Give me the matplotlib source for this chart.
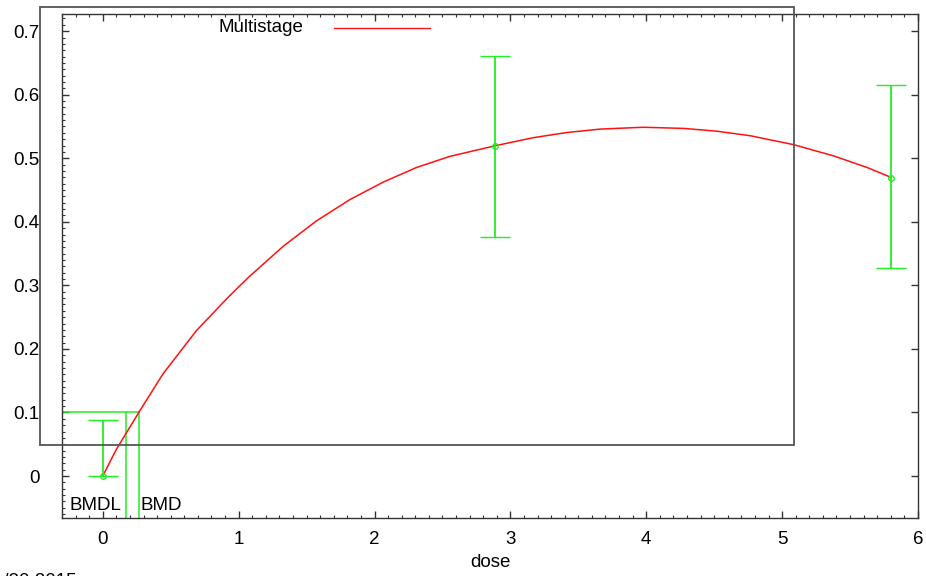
import matplotlib
matplotlib.use("Agg")
import matplotlib.pyplot as plt
from matplotlib.lines import Line2D
from matplotlib.patches import Rectangle
from matplotlib.ticker import MultipleLocator, FuncFormatter

plt.rcParams["font.family"] = ["Liberation Sans", "DejaVu Sans"]
plt.rcParams["font.size"] = 13.5

# observed data (mean response with error bars)
doses = [0.0, 2.89, 5.8]
means = [0.0, 0.52, 0.469]
lower = [0.0, 0.376, 0.327]
upper = [0.088, 0.661, 0.616]

# fitted multistage curve
curve_x = [0.0, 0.1, 0.265, 0.444, 0.69, 0.935, 1.082, 1.328, 1.573, 1.819, 2.064, 2.309,
           2.555, 2.894, 3.169, 3.414, 3.66, 3.979, 4.274, 4.519, 4.764, 5.083, 5.378,
           5.624, 5.795]
curve_y = [0.0, 0.042, 0.1, 0.161, 0.229, 0.284, 0.3145, 0.3615, 0.4015, 0.435, 0.4625, 0.4855,
           0.503, 0.52, 0.5324, 0.5405, 0.5459, 0.5488, 0.547, 0.5426, 0.5355, 0.5215, 0.5038,
           0.4856, 0.4705]

bmr = 0.1
bmd = 0.265
bmdl = 0.174
date_text = "1/30 2015"

green = "#22ee22"
red = "#ff1111"
xmin, xmax = -0.3, 6.0
ymin, ymax = -0.066, 0.727

fig = plt.figure(figsize=(9.26, 5.76), dpi=100)
ax = fig.add_axes([62 / 926, 1 - 518 / 576, (918 - 62) / 926, (518 - 14) / 576])

ax.plot(curve_x, curve_y, color=red, lw=1.1, zorder=3)

yerr = [[m - lo for m, lo in zip(means, lower)], [up - m for m, up in zip(means, upper)]]
ax.errorbar(doses, means, yerr=yerr, fmt="o", color=green, ms=4, mfc="none", mew=1,
            elinewidth=1.3, capsize=11, capthick=1.3, zorder=4)

# BMD / BMDL markers
ax.plot([xmin, bmd], [bmr, bmr], color=green, lw=1.1)
ax.plot([bmdl, bmdl], [bmr, ymin], color=green, lw=1.1)
ax.plot([bmd, bmd], [bmr, ymin], color=green, lw=1.1)
ax.text(-0.245, -0.046, "BMDL", ha="left", va="center")
ax.text(bmd + 0.01, -0.046, "BMD", ha="left", va="center")

ax.set_xlim(xmin, xmax)
ax.set_ylim(ymin, ymax)
ax.xaxis.set_major_locator(MultipleLocator(1))
ax.xaxis.set_minor_locator(MultipleLocator(0.1))
ax.yaxis.set_major_locator(MultipleLocator(0.1))
ax.yaxis.set_minor_locator(MultipleLocator(0.01))
ax.yaxis.set_major_formatter(FuncFormatter(lambda v, p: "%g" % round(v, 2)))

ax.tick_params(which="both", direction="in", top=True, right=True, color="#333333")
ax.tick_params(which="major", length=5, width=1)
ax.tick_params(which="minor", length=2.5, width=0.8, right=False)
ax.tick_params(axis="y", which="major", pad=16)
ax.tick_params(axis="x", which="major", pad=9)
for s in ax.spines.values():
    s.set_color("#333333")
    s.set_linewidth(1)

ax.set_xlabel("dose", labelpad=5)

# outer key box
fig.patches.append(Rectangle((40 / 926, 1 - 445 / 576), (794 - 40) / 926, (445 - 7) / 576,
                             transform=fig.transFigure, fill=False, edgecolor="#555555",
                             lw=1.3, zorder=5))

# legend entry
fig.text(219 / 926, 1 - 28 / 576, "Multistage", ha="left", va="center")
fig.lines.append(Line2D([334 / 926, 430 / 926], [1 - 28 / 576, 1 - 28 / 576],
                        transform=fig.transFigure, color=red, lw=1))

fig.text(-7 / 926, 1 - 572.5 / 576, date_text, ha="left", va="top")

fig.savefig("out.png", dpi=100)
